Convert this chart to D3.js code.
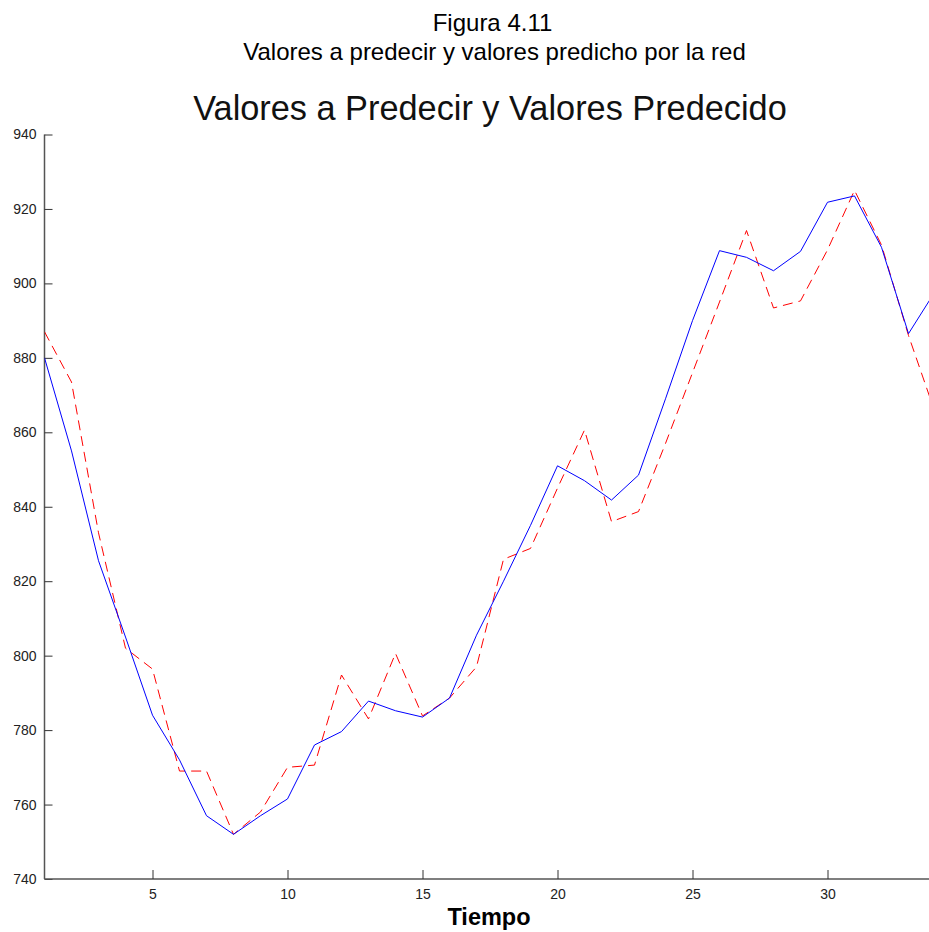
<!DOCTYPE html>
<html lang="es">
<head>
    <meta charset="UTF-8">
    <title>Valores a Predecir y Valores Predecido</title>
    <script src="https://d3js.org/d3.v7.min.js"></script>
    <style>
        body { margin: 0; background: #fff; font-family: "Liberation Sans", Arial, sans-serif; }
        svg { display: block; }
    </style>
</head>
<body>
    <div id="chart"></div>
    <script>
        // Serie real (azul) y serie predicha por la red (roja, discontinua)
        const tiempo = d3.range(1, 35);
        const valoresReales = [
            880, 855, 825.5, 805, 784, 772, 757, 752, 757, 761.5,
            776, 779.6, 787.8, 785.2, 783.5, 788.6, 805.5, 820, 835, 851,
            847, 841.8, 848.5, 869, 890, 908.8, 907, 903.4, 908.6, 921.8,
            923.5, 909.7, 886.5, 898
        ];
        const valoresPredichos = [
            887, 873.5, 833, 802, 796.4, 769, 769, 752, 758, 770,
            770.6, 794.8, 783, 800.6, 783.8, 788.6, 797, 825.9, 828.8, 845,
            860.6, 836, 838.7, 857, 876, 895, 914.2, 893.4, 895.3, 909,
            925, 910.3, 886, 865
        ];
        const xTicks = [5, 10, 15, 20, 25, 30];
        const yTicks = [740, 760, 780, 800, 820, 840, 860, 880, 900, 920, 940];

        const width = 929, height = 932;
        const svg = d3.select("#chart").append("svg")
            .attr("width", width)
            .attr("height", height);

        const x = d3.scaleLinear().domain([1, 34]).range([44.5, 44.5 + 33 * 27]);
        const y = d3.scaleLinear().domain([740, 940]).range([879, 134.5]);

        // encabezado de la figura
        svg.append("text")
            .attr("x", 492.5).attr("y", 31)
            .attr("text-anchor", "middle")
            .style("font-size", "24px")
            .text("Figura 4.11");
        svg.append("text")
            .attr("x", 494.5).attr("y", 60)
            .attr("text-anchor", "middle")
            .style("font-size", "24px")
            .text("Valores a predecir y valores predicho por la red");

        // titulo del grafico
        svg.append("text")
            .attr("x", 490).attr("y", 120)
            .attr("text-anchor", "middle")
            .style("font-size", "34.3px")
            .style("fill", "#111")
            .text("Valores a Predecir y Valores Predecido");

        svg.append("defs").append("clipPath").attr("id", "clip")
            .append("rect")
            .attr("x", x(1)).attr("y", 0)
            .attr("width", width - x(1)).attr("height", y(740));

        // ejes
        const yAxis = d3.axisLeft(y).tickValues(yTicks).tickSize(-8).tickPadding(8);
        const gy = svg.append("g")
            .attr("transform", `translate(${x(1)},0)`)
            .call(yAxis);

        const xAxis = d3.axisBottom(x).tickValues(xTicks).tickSize(-9).tickPadding(10);
        const gx = svg.append("g")
            .attr("transform", `translate(0,${y(740)})`)
            .call(xAxis);

        [gx, gy].forEach(g => {
            g.select(".domain").attr("stroke", "#555").attr("stroke-width", 1.5);
            g.selectAll(".tick line").attr("stroke", "#333");
            g.selectAll(".tick text")
                .style("font-family", "'Liberation Sans', Arial, sans-serif")
                .style("font-size", "14px")
                .attr("fill", "#222");
        });
        gx.select(".domain").attr("d", `M${x(1)},0H${width}`);
        gy.select(".domain").attr("d", `M0,${y(940)}V${y(740)}`);

        svg.append("text")
            .attr("x", 489).attr("y", 925)
            .attr("text-anchor", "middle")
            .style("font-size", "23.5px")
            .style("font-weight", "bold")
            .text("Tiempo");

        const line = d3.line()
            .x((d, i) => x(tiempo[i]))
            .y(d => y(d));

        const plot = svg.append("g").attr("clip-path", "url(#clip)");
        plot.append("path")
            .datum(valoresPredichos)
            .attr("fill", "none")
            .attr("stroke", "#ff0000")
            .attr("stroke-width", 1)
            .attr("stroke-dasharray", "10,6")
            .attr("d", line);
        plot.append("path")
            .datum(valoresReales)
            .attr("fill", "none")
            .attr("stroke", "#0000ff")
            .attr("stroke-width", 1)
            .attr("d", line);
    </script>
</body>
</html>
